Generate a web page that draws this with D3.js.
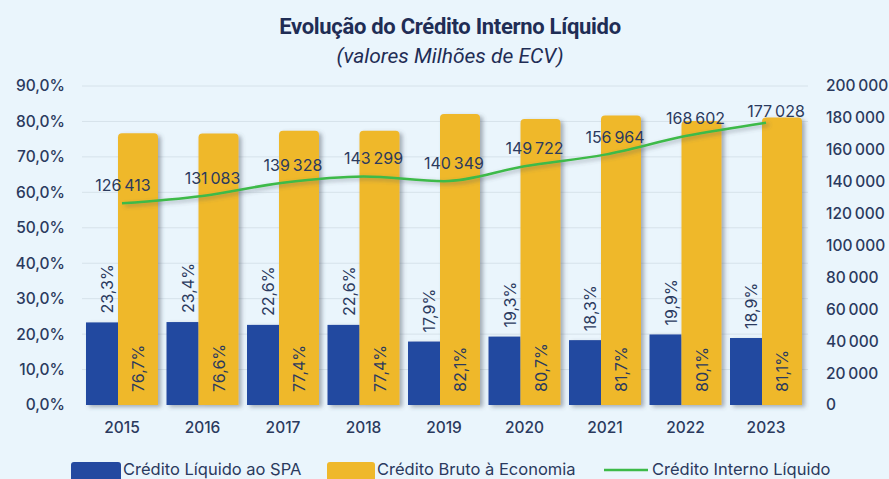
<!DOCTYPE html>
<html>
<head>
<meta charset="utf-8">
<script src="https://cdn.jsdelivr.net/npm/d3@7"></script>
<style>
  body { margin: 0; background: #eaf5fc; }
  svg { display: block; }
  text { font-family: Inter, "Noto Sans", sans-serif; fill: #2b3a5e; }
</style>
</head>
<body>
<div id="chart"></div>
<script>
const years = ["2015", "2016", "2017", "2018", "2019", "2020", "2021", "2022", "2023"];
const spaShare = [23.3, 23.4, 22.6, 22.6, 17.9, 19.3, 18.3, 19.9, 18.9];
const economiaShare = [76.7, 76.6, 77.4, 77.4, 82.1, 80.7, 81.7, 80.1, 81.1];
const creditoInterno = [126413, 131083, 139328, 143299, 140349, 149722, 156964, 168602, 177028];
const leftTicks = [0, 10, 20, 30, 40, 50, 60, 70, 80, 90];
const rightTicks = [0, 20000, 40000, 60000, 80000, 100000, 120000, 140000, 160000, 180000, 200000];

const width = 889, height = 479;
const blue = "#2449a0", yellow = "#efb82b", green = "#3dba48";

const svg = d3.select("#chart").append("svg")
  .attr("width", width).attr("height", height);

const defs = svg.append("defs");
const shadow = defs.append("filter").attr("id", "shadow")
  .attr("x", "-20%").attr("y", "-20%").attr("width", "150%").attr("height", "150%");
shadow.append("feDropShadow").attr("dx", 3).attr("dy", 2)
  .attr("stdDeviation", 2).attr("flood-color", "#4a5560").attr("flood-opacity", 0.45);

const x = d3.scaleBand().domain(years).range([81.75, 806.25]);
const yL = d3.scaleLinear().domain([0, 90]).range([405, 86]);
const yR = d3.scaleLinear().domain([0, 200000]).range([405, 86]);
const fmtPct = (v) => d3.format(".1f")(v).replace(".", ",") + "%";
const fmtNum = (v) => d3.format(",")(v).replace(/,/g, "\u2009");

// title
svg.append("text").attr("x", 450).attr("y", 34).attr("text-anchor", "middle")
  .style("font-family", "Roboto, sans-serif").style("letter-spacing", "-0.3px")
  .style("font-weight", "bold").style("font-size", "22px").style("fill", "#1f2d55")
  .text("Evolução do Crédito Interno Líquido");
svg.append("text").attr("x", 450).attr("y", 63).attr("text-anchor", "middle")
  .style("font-family", "Roboto, sans-serif")
  .style("font-style", "italic").style("font-size", "21px").style("fill", "#1f2d55")
  .text("(valores Milhões de ECV)");

// gridlines
svg.append("g").selectAll("line").data(leftTicks.slice(1)).join("line")
  .attr("x1", 82).attr("x2", 808)
  .attr("y1", (d) => yL(d)).attr("y2", (d) => yL(d))
  .attr("stroke", "#d6e2ea").attr("stroke-width", 1);

// axes
const leftAxis = svg.append("g").attr("transform", "translate(65,0)")
  .call(d3.axisLeft(yL).tickValues(leftTicks).tickSize(0).tickPadding(0).tickFormat(fmtPct));
const rightAxis = svg.append("g").attr("transform", "translate(826,0)")
  .call(d3.axisRight(yR).tickValues(rightTicks).tickSize(0).tickPadding(0).tickFormat(fmtNum));
const bottomAxis = svg.append("g").attr("transform", "translate(0,418)")
  .call(d3.axisBottom(x).tickSize(0).tickPadding(4));
[leftAxis, rightAxis, bottomAxis].forEach((g) => {
  g.select(".domain").remove();
  g.selectAll("text").style("font-size", "15.5px").style("font-weight", 500).style("fill", "#2b3a5e");
});

// bars
const groupW = 72, blueW = 32, yellowW = 40;
const gx = (i) => x(years[i]) + (x.bandwidth() - groupW) / 2;
const bars = svg.append("g").attr("filter", "url(#shadow)");
bars.selectAll("rect.spa").data(spaShare).join("rect").attr("class", "spa")
  .attr("x", (d, i) => gx(i)).attr("width", blueW)
  .attr("y", (d) => yL(d)).attr("height", (d) => yL(0) - yL(d))
  .attr("fill", blue);
bars.selectAll("path.eco").data(economiaShare).join("path").attr("class", "eco")
  .attr("d", (d, i) => {
    const x0 = gx(i) + blueW, x1 = x0 + yellowW, t = yL(d), b = yL(0), r = 4;
    return `M${x0},${b}V${t + r}Q${x0},${t} ${x0 + r},${t}H${x1 - r}Q${x1},${t} ${x1},${t + r}V${b}Z`;
  })
  .attr("fill", yellow);

// bar labels
svg.append("g").selectAll("text").data(spaShare).join("text")
  .attr("transform", (d, i) => `translate(${gx(i) + blueW / 2 + 11},${yL(d) - 9}) rotate(-90)`)
  .style("font-size", "16px").text((d) => fmtPct(d));
svg.append("g").selectAll("text").data(economiaShare).join("text")
  .attr("transform", (d, i) => `translate(${gx(i) + blueW + yellowW / 2 + 6},${yL(0) - 13}) rotate(-90)`)
  .style("font-size", "16px").text((d) => fmtPct(d));

// line
const cx = (i) => x(years[i]) + x.bandwidth() / 2;
const line = d3.line().x((d, i) => cx(i)).y((d) => yR(d)).curve(d3.curveMonotoneX);
svg.append("path").datum(creditoInterno).attr("d", line)
  .attr("fill", "none").attr("stroke", green).attr("stroke-width", 2.5)
  .attr("filter", "url(#shadow)");
svg.append("g").selectAll("text").data(creditoInterno).join("text")
  .attr("x", (d, i) => cx(i) + (i === 0 ? 1 : 10))
  .attr("y", (d, i) => yR(d) - (i === creditoInterno.length - 1 ? 6 : 12))
  .attr("text-anchor", "middle").style("font-size", "16px")
  .text((d) => fmtNum(d));

// legend
const legend = svg.append("g").style("font-family", "Roboto, sans-serif");
legend.append("rect").attr("x", 71).attr("y", 462).attr("width", 50).attr("height", 20).attr("rx", 3).attr("fill", blue);
legend.append("text").attr("x", 123).attr("y", 475).style("font-size", "16.5px").text("Crédito Líquido ao SPA");
legend.append("rect").attr("x", 327).attr("y", 462).attr("width", 48).attr("height", 20).attr("rx", 3).attr("fill", yellow);
legend.append("text").attr("x", 377).attr("y", 475).style("font-size", "16.5px").text("Crédito Bruto à Economia");
legend.append("line").attr("x1", 604).attr("x2", 648).attr("y1", 470).attr("y2", 470)
  .attr("stroke", green).attr("stroke-width", 2.5);
legend.append("text").attr("x", 652).attr("y", 475).style("font-size", "16.5px").text("Crédito Interno Líquido");
</script>
</body>
</html>
